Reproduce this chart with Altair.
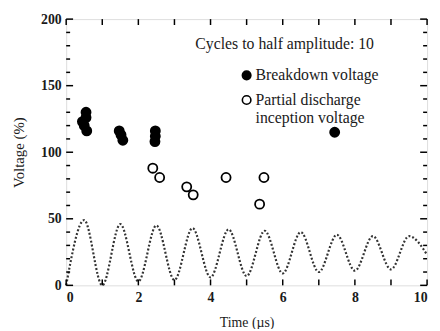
import altair as alt
import pandas as pd

# Breakdown voltage (filled circles)
bd_time = [0.55, 0.55, 0.45, 0.50, 0.57, 1.47, 1.52, 1.57, 2.47, 2.47, 2.46, 7.44]
bd_volt = [130, 126, 123, 120, 116, 116, 113, 109, 116, 112, 108, 115]

# Partial discharge inception voltage (open circles)
pd_time = [2.40, 2.59, 3.34, 3.52, 4.43, 5.36, 5.48]
pd_volt = [88, 81, 74, 68, 81, 61, 81]

# Damped oscillation (dotted), read at peaks and troughs
wave_time = [0, 0.5, 1.0, 1.5, 2.0, 2.5, 3.0, 3.5, 4.0, 4.5, 5.0, 5.5, 6.0, 6.5,
             7.0, 7.5, 8.0, 8.5, 9.0, 9.5, 10.0]
wave_volt = [0, 49, 0, 46, 3, 45, 4, 43, 6, 42, 7, 41, 9, 40,
             10, 38, 11, 37, 12, 37, 23]

x_ticks = list(range(0, 11))
y_major_ticks = list(range(0, 201, 50))
y_minor_ticks = [v for v in range(0, 201, 10) if v % 50 != 0]

series_names = ["Breakdown voltage", "Partial discharge inception voltage"]
legend_lines = [["Breakdown voltage"], ["Partial discharge", "inception voltage"]]
annotation = ["Cycles to half amplitude: 10"]

W, H = 366, 270
FONT = "'Liberation Serif', 'Times New Roman', serif"
INK = "#1a1a1a"

pts = pd.DataFrame({
    "t": bd_time + pd_time,
    "v": bd_volt + pd_volt,
    "s": [series_names[0]] * len(bd_time) + [series_names[1]] * len(pd_time),
})
wave = pd.DataFrame({"t": wave_time, "v": wave_volt})
xt = pd.DataFrame({"t": x_ticks})
ytM = pd.DataFrame({"v": y_major_ticks})
ytm = pd.DataFrame({"v": y_minor_ticks})

xscale = alt.Scale(domain=[0, 10], nice=False, zero=False)
yscale = alt.Scale(domain=[0, 200], nice=False, zero=False)
fscale = alt.Scale(domain=series_names, range=["black", "white"])

xaxis = alt.Axis(title="Time (\u00b5s)", values=list(range(0, 11, 2)), ticks=False, domain=False,
                 grid=False, labelFont=FONT, labelFontSize=14, labelFontWeight="bold",
                 labelPadding=5, titleFont=FONT, titleFontSize=14, titleFontWeight="normal",
                 titlePadding=12, labelColor=INK, titleColor=INK)
yaxis = alt.Axis(title="Voltage (%)", values=list(range(0, 201, 50)), ticks=False, domain=False,
                 grid=False, labelFont=FONT, labelFontSize=14, labelFontWeight="bold",
                 labelPadding=5, titleFont=FONT, titleFontSize=15, titleFontWeight="normal",
                 titlePadding=14, labelColor=INK, titleColor=INK)

line = alt.Chart(wave).mark_line(
    interpolate="monotone", strokeDash=[2, 2], strokeWidth=2.2, color="#333"
).encode(
    x=alt.X("t:Q", scale=xscale, axis=xaxis),
    y=alt.Y("v:Q", scale=yscale, axis=yaxis),
)

points = alt.Chart(pts).mark_point(
    filled=True, shape="circle", size=85, stroke="black", strokeWidth=1.8, opacity=1
).encode(
    x=alt.X("t:Q", scale=xscale),
    y=alt.Y("v:Q", scale=yscale),
    fill=alt.Fill("s:N", scale=fscale, legend=None),
)

def rule(df, **enc):
    return alt.Chart(df).mark_rule(color="black", strokeWidth=1.5).encode(**enc)

xticks_b = rule(xt, x=alt.X("t:Q", scale=xscale), y=alt.value(H), y2=alt.value(H - 6))
xticks_t = rule(xt, x=alt.X("t:Q", scale=xscale), y=alt.value(0), y2=alt.value(6))
ytl_M = rule(ytM, y=alt.Y("v:Q", scale=yscale), x=alt.value(0), x2=alt.value(7))
ytl_m = rule(ytm, y=alt.Y("v:Q", scale=yscale), x=alt.value(0), x2=alt.value(4))
ytr_M = rule(ytM, y=alt.Y("v:Q", scale=yscale), x=alt.value(W), x2=alt.value(W - 7))
ytr_m = rule(ytm, y=alt.Y("v:Q", scale=yscale), x=alt.value(W), x2=alt.value(W - 4))

note = alt.Chart(pd.DataFrame({"txt": annotation})).mark_text(
    font=FONT, fontSize=16, align="left", baseline="middle", color=INK
).encode(text="txt:N", x=alt.value(131), y=alt.value(25))

# hand-placed legend (symbol + label rows)
legend_layers = []
leg_y = [57, 82]
for i, name in enumerate(series_names):
    d = pd.DataFrame({"s": [name]})
    legend_layers.append(
        alt.Chart(d).mark_point(filled=True, shape="circle", size=75, stroke="black",
                                strokeWidth=1.6, opacity=1).encode(
            x=alt.value(183), y=alt.value(leg_y[i]),
            fill=alt.Fill("s:N", scale=fscale, legend=None))
    )
    for j, txt in enumerate(legend_lines[i]):
        legend_layers.append(
            alt.Chart(pd.DataFrame({"txt": [txt]})).mark_text(
                font=FONT, fontSize=16, align="left", baseline="middle", color=INK
            ).encode(text="txt:N", x=alt.value(192), y=alt.value(leg_y[i] + 18 * j))
        )

chart = alt.layer(line, xticks_b, xticks_t, ytl_M, ytl_m, ytr_M, ytr_m, points, note,
                  *legend_layers).properties(
    width=W, height=H,
    autosize=alt.AutoSizeParams(type="none"),
    padding={"left": 59, "top": 9, "right": 5, "bottom": 42},
).configure_view(stroke="black", strokeWidth=2).configure(background="white", font=FONT)

chart.save("out.html", embed_options={"renderer": "svg", "actions": False})
